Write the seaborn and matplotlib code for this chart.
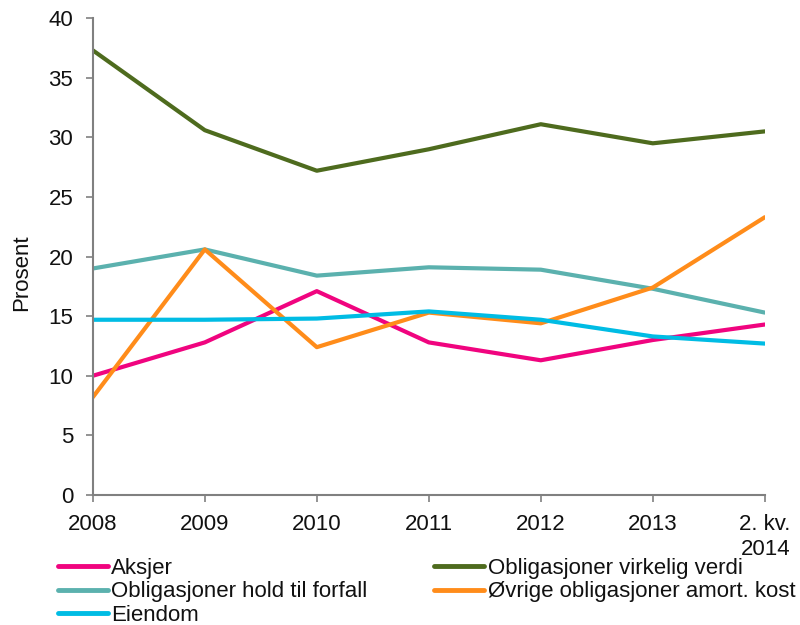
import pandas as pd
import matplotlib
matplotlib.use("Agg")
import matplotlib.pyplot as plt
import seaborn as sns
from matplotlib.lines import Line2D

# Data
periods = ["2008", "2009", "2010", "2011", "2012", "2013", "2. kv.\n2014"]
aksjer = [10.0, 12.8, 17.1, 12.8, 11.3, 13.0, 14.3]
oblig_virkelig = [37.3, 30.6, 27.2, 29.0, 31.1, 29.5, 30.5]
oblig_hold = [19.0, 20.6, 18.4, 19.1, 18.9, 17.3, 15.3]
ovrige_oblig = [8.2, 20.6, 12.4, 15.3, 14.4, 17.4, 23.3]
eiendom = [14.7, 14.7, 14.8, 15.4, 14.7, 13.3, 12.7]

series = {
    "Aksjer": aksjer,
    "Obligasjoner virkelig verdi": oblig_virkelig,
    "Obligasjoner hold til forfall": oblig_hold,
    "Øvrige obligasjoner amort. kost": ovrige_oblig,
    "Eiendom": eiendom,
}
colors = {
    "Aksjer": "#F0047F",
    "Obligasjoner virkelig verdi": "#4E6B1E",
    "Obligasjoner hold til forfall": "#5BB1AE",
    "Øvrige obligasjoner amort. kost": "#FF8C1A",
    "Eiendom": "#00BCE4",
}

rows = []
for name, vals in series.items():
    for i, v in enumerate(vals):
        rows.append({"x": i, "serie": name, "verdi": v})
df = pd.DataFrame(rows)

sns.set_style("white")
plt.rcParams["font.family"] = ["Liberation Sans", "DejaVu Sans"]
FS = 16

fig = plt.figure(figsize=(8, 6.25), dpi=100)
ax = fig.add_axes([0.116, 0.208, 0.84, 0.763])

sns.lineplot(data=df, x="x", y="verdi", hue="serie", palette=colors,
             hue_order=list(series.keys()), linewidth=3, legend=False, ax=ax)

ax.set_xlim(0, len(periods) - 1)
ax.set_ylim(0, 40)
ax.set_xticks(range(len(periods)))
ax.set_xticklabels(periods, fontsize=FS, multialignment="right", color="#111111")
ax.set_yticks(range(0, 41, 5))
ax.tick_params(axis="y", labelsize=FS, labelcolor="#111111", length=5, width=1.2,
               color="#808080", direction="out", left=True, pad=9)
ax.tick_params(axis="x", length=5, width=1.2, color="#808080", direction="out",
               bottom=True, pad=9)
ax.set_xlabel("")
ax.set_ylabel("Prosent", fontsize=FS, color="#111111")
ax.yaxis.set_label_coords(-0.09, 0.467)

for s in ["top", "right"]:
    ax.spines[s].set_visible(False)
for s in ["left", "bottom"]:
    ax.spines[s].set_color("#808080")
    ax.spines[s].set_linewidth(1.5)

# legend: column-major ordering to get the reference row layout
order = ["Aksjer", "Obligasjoner hold til forfall", "Eiendom",
         "Obligasjoner virkelig verdi", "Øvrige obligasjoner amort. kost"]
handles = [Line2D([0], [0], color=colors[n], linewidth=3.5) for n in order]
fig.legend(handles, order, loc="upper left", bbox_to_anchor=(0.072, 0.107),
           ncol=2, frameon=False, fontsize=FS, handlelength=2.25,
           handletextpad=0.15, labelspacing=0.1, columnspacing=3.02,
           borderpad=0, borderaxespad=0, labelcolor="#111111")

fig.savefig("out.png", dpi=100)
